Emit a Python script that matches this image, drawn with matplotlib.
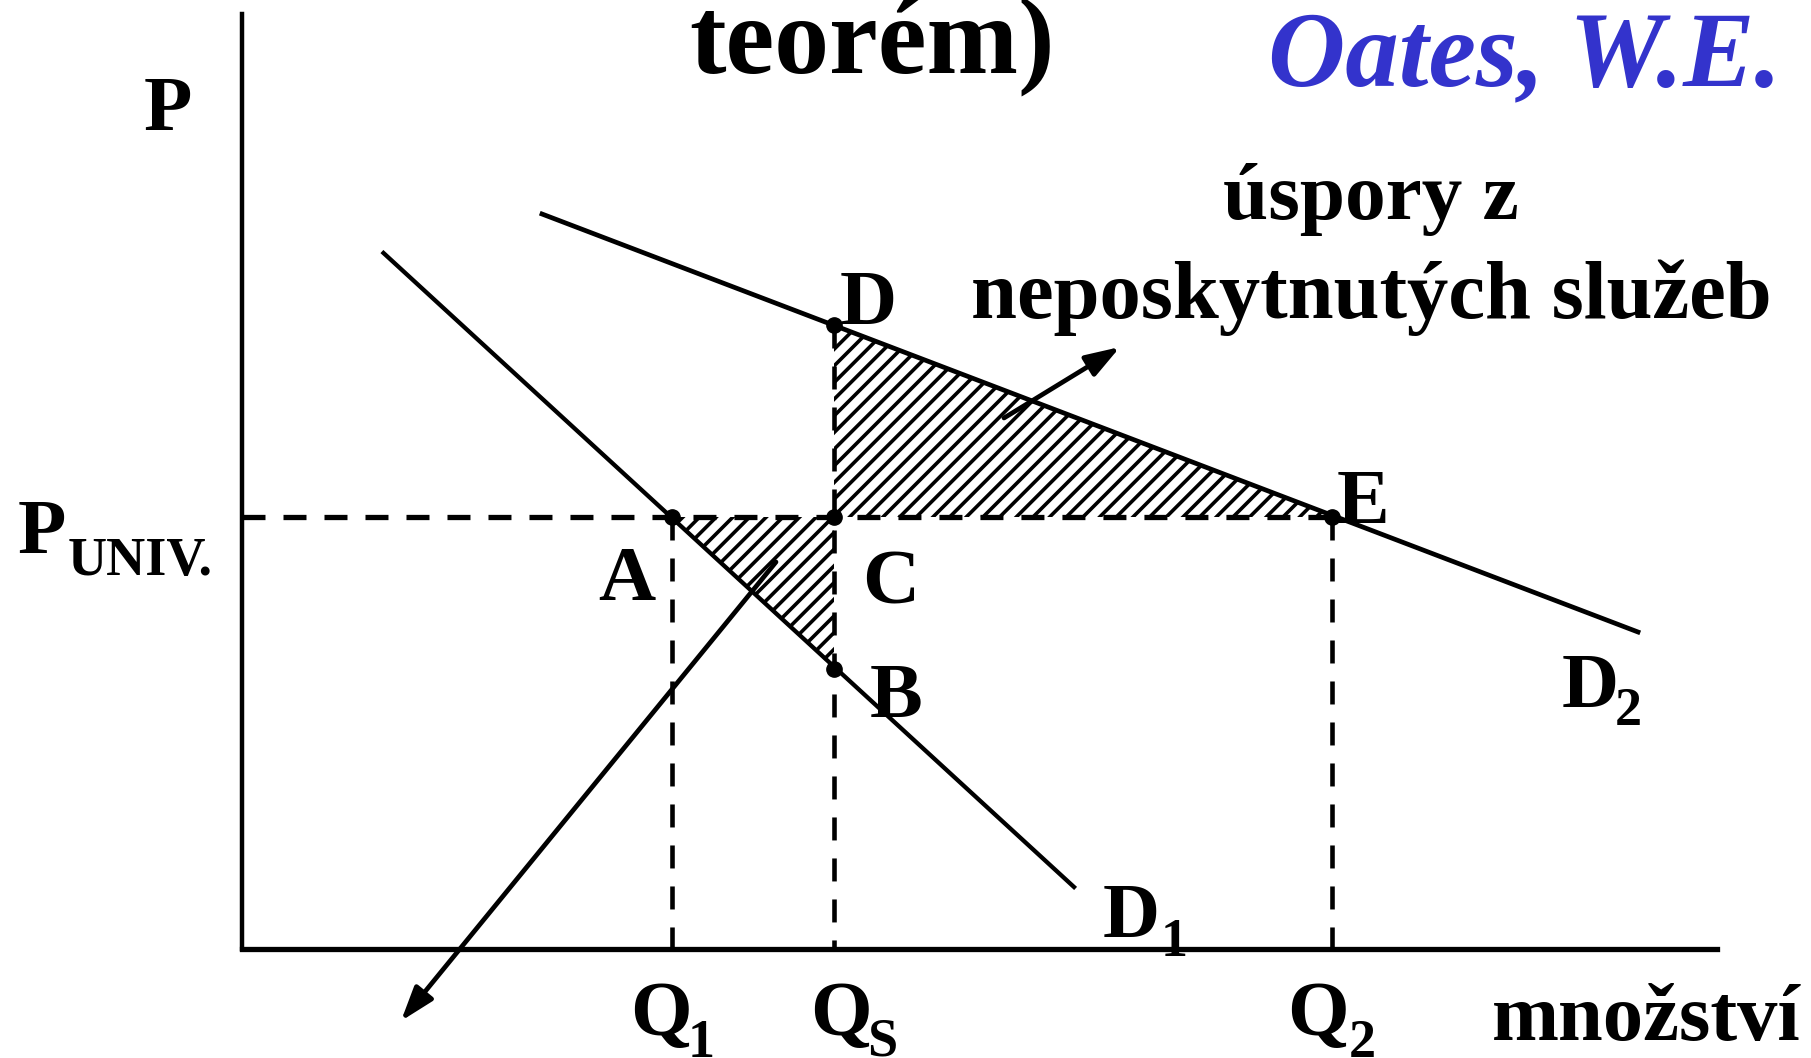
import matplotlib
matplotlib.use("Agg")
import matplotlib.pyplot as plt
from matplotlib.patches import Polygon

plt.rcParams['font.family'] = ['Liberation Serif', 'DejaVu Serif']
plt.rcParams['hatch.linewidth'] = 2.6
plt.rcParams['lines.scale_dashes'] = False

# ---------------- data (quantity, price) ----------------
p_univ = 4.32
q1, qs, q2 = 4.30, 5.92, 10.90
d1_q = [1.415, 8.32]
d1_p = [6.96, 0.62]
d2_q = [3.00, 13.96]
d2_p = [7.35, 3.17]
pt_names = ['A', 'B', 'C', 'D', 'E']
pt_q = [4.30, 5.92, 5.92, 5.92, 10.90]
pt_p = [4.32, 2.80, 4.32, 6.24, 4.32]
arrow1_tail, arrow1_head = (7.62, 5.31), (8.78, 6.02)
arrow2_tail, arrow2_head = (5.34, 3.87), (1.59, -0.72)

W, H, DPI = 1811, 1058, 100
fig = plt.figure(figsize=(W / DPI, H / DPI), dpi=DPI)
ax = fig.add_axes([242 / W, 1 - 949 / H, 1475 / W, 935 / H])
ax.set_xlim(0, 14.75)
ax.set_ylim(0, 9.35)
for s in ['top', 'right']:
    ax.spines[s].set_visible(False)
ax.spines['left'].set_linewidth(3.2)
ax.spines['bottom'].set_linewidth(3.8)
ax.set_xticks([])
ax.set_yticks([])

P = dict(zip(pt_names, zip(pt_q, pt_p)))

# hatched areas
tri1 = Polygon([P['D'], P['C'], P['E']], closed=True, facecolor='none',
               edgecolor='black', linewidth=0, hatch='//', zorder=1)
tri2 = Polygon([P['A'], P['C'], P['B']], closed=True, facecolor='none',
               edgecolor='black', linewidth=0, hatch='//', zorder=1)
ax.add_patch(tri1)
ax.add_patch(tri2)

dash = (0, (23 / 1.389, 18 / 1.389))
# dashed guides
ax.plot([0, q2], [p_univ, p_univ], color='black', lw=3.8, linestyle=dash,
        clip_on=False, zorder=2, dash_capstyle='butt')
ax.plot([q1, q1], [p_univ, 0], color='black', lw=3.3, linestyle=dash, zorder=2, dash_capstyle='butt')
ax.plot([qs, qs], [P['D'][1], 0], color='black', lw=3.3, linestyle=dash, zorder=2, dash_capstyle='butt')
ax.plot([q2, q2], [p_univ, 0], color='black', lw=3.3, linestyle=dash, zorder=2, dash_capstyle='butt')

# demand curves
ax.plot(d1_q, d1_p, color='black', lw=3.1, clip_on=False, zorder=3)
ax.plot(d2_q, d2_p, color='black', lw=3.4, clip_on=False, zorder=3)

# points
ax.plot(pt_q, pt_p, 'o', color='black', markersize=11, zorder=4, clip_on=False)

# arrows
for tail, head in [(arrow1_tail, arrow1_head), (arrow2_tail, arrow2_head)]:
    ax.annotate('', xy=head, xytext=tail, annotation_clip=False,
                arrowprops=dict(arrowstyle='-|>,head_length=0.95,head_width=0.32',
                                lw=3.4, color='black', mutation_scale=22,
                                shrinkA=0, shrinkB=0), zorder=5)


def T(px, py, s, size, **kw):
    kw.setdefault('weight', 'bold')
    kw.setdefault('ha', 'left')
    kw.setdefault('va', 'baseline')
    fig.text(px / W, 1 - py / H, s, fontsize=size, **kw)


T(872, 72, 'teorém)', 79, ha='center')
T(1268, 85, 'Oates, W.E.', 77, style='italic', color='#3333CC')
T(144, 130, 'P', 57)
T(18, 553, 'P', 57)
T(68, 575, 'UNIV.', 39)
T(1371, 219, 'úspory z', 58.5, ha='center')
T(1371, 318, 'neposkytnutých služeb', 59.5, ha='center')

T(840, 324, 'D', 57)
T(1337, 523, 'E', 57)
T(598, 600, 'A', 57)
T(862, 604, 'C', 57)
T(870, 717, 'B', 57)
T(1562, 707, 'D', 57)
T(1615, 725, '2', 39)
T(1103, 937, 'D', 57)
T(1161, 956, '1', 39)
T(630, 1035, 'Q', 57)
T(688, 1057, '1', 39)
T(810, 1035, 'Q', 57)
T(867, 1055, 'S', 39)
T(1287, 1035, 'Q', 57)
T(1349, 1057, '2', 39)
T(1492, 1040, 'množství', 58)

fig.savefig('out.png', dpi=DPI)
